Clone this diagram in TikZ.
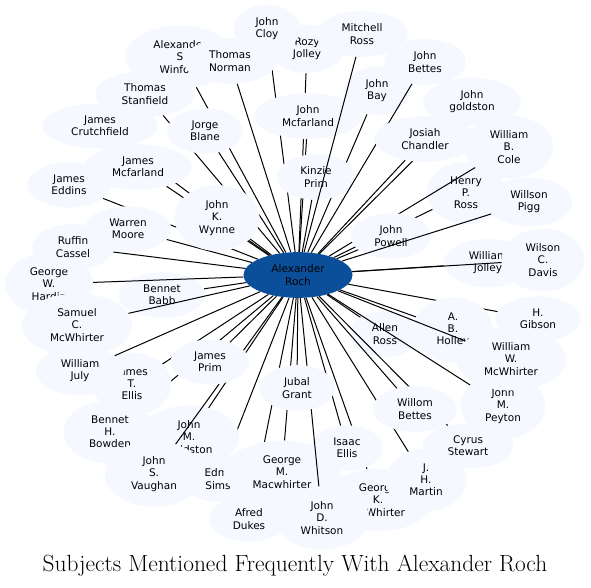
\documentclass[tikz,border=0pt]{standalone}
\usepackage{fontspec}
\usepackage{xcolor}
\usepackage{tikz}
\usetikzlibrary{shapes.geometric}
\newfontfamily\dvs{DejaVu Sans}
\definecolor{paleblue}{RGB}{245,249,255}
\definecolor{hubblue}{RGB}{11,79,154}

\begin{document}
\begin{tikzpicture}[x=1pt, y=-1pt,
  n/.style={ellipse, fill=paleblue, inner xsep=12pt, inner ysep=6pt, align=center,
    font=\dvs\fontsize{10.5}{12.2}\selectfont},
  hub/.style={n, fill=hubblue},
  lnk/.style={line width=1pt, black}]
  \useasboundingbox (0,0) rectangle (591,588);
  \node[hub] (roch) at (298,275) {Alexander\\Roch};
  % top
  \node[n] (rozy) at (307,49) {Rozy\\Jolley};
  \draw[lnk] (roch)--(rozy);
  \node[n] (cloy) at (267,29) {John\\Cloy};
  \draw[lnk] (roch)--(cloy);
  \node[n] (winford) at (180,57) {Alexander\\S\\Winford};
  \draw[lnk] (roch)--(winford);
  \node[n] (norman) at (230,61) {Thomas\\Norman};
  \draw[lnk] (roch)--(norman);
  \node[n] (jmcf) at (308,116) {John\\Mcfarland};
  \draw[lnk] (roch)--(jmcf);
  \node[n] (bay) at (377,91) {John\\Bay};
  \draw[lnk] (roch)--(bay);
  \node[n] (kinzie) at (316,177) {Kinzie\\Prim};
  \draw[lnk] (roch)--(kinzie);
  \node[n] (mitchell) at (362,34) {Mitchell\\Ross};
  \draw[lnk] (roch)--(mitchell);
  \node[n] (jbettes) at (425,62) {John\\Bettes};
  \draw[lnk] (roch)--(jbettes);
  \node[n] (jgold) at (472,102) {John\\goldston};
  \draw[lnk] (roch)--(jgold);
  \node[n] (chandler) at (425,139) {Josiah\\Chandler};
  \draw[lnk] (roch)--(chandler);
  % right
  \node[n] (henry) at (466,193) {Henry\\P.\\Ross};
  \draw[lnk] (roch)--(henry);
  \node[n] (cole) at (509,147) {William\\B.\\Cole};
  \draw[lnk] (roch)--(cole);
  \node[n] (powell) at (391,236) {John\\Powell};
  \draw[lnk] (roch)--(powell);
  \node[n] (pigg) at (529,202) {Willson\\Pigg};
  \draw[lnk] (roch)--(pigg);
  \node[n] (wjolley) at (488,263) {William\\Jolley};
  \draw[lnk] (roch)--(wjolley);
  \node[n] (davis) at (543,260) {Wilson\\C.\\Davis};
  \draw[lnk] (roch)--(davis);
  \node[n] (gibson) at (538,319) {H.\\Gibson};
  \draw[lnk] (roch)--(gibson);
  \node[n] (allen) at (385,334) {Allen\\Ross};
  \draw[lnk] (roch)--(allen);
  \node[n] (holley) at (453,330) {A.\\B.\\Holley};
  \draw[lnk] (roch)--(holley);
  \node[n] (peyton) at (503,406) {John\\M.\\Peyton};
  \draw[lnk] (roch)--(peyton);
  \node[n] (wwmcw) at (511,359) {William\\W.\\McWhirter};
  \draw[lnk] (roch)--(wwmcw);
  % bottom
  \node[n] (cyrus) at (468,446) {Cyrus\\Stewart};
  \draw[lnk] (roch)--(cyrus);
  \node[n] (gkmcw) at (378,500) {George\\K.\\McWhirter};
  \draw[lnk] (roch)--(gkmcw);
  \node[n] (martin) at (426,480) {J.\\H.\\Martin};
  \draw[lnk] (roch)--(martin);
  \node[n] (willom) at (415,409) {Willom\\Bettes};
  \draw[lnk] (roch)--(willom);
  \node[n] (isaac) at (347,448) {Isaac\\Ellis};
  \draw[lnk] (roch)--(isaac);
  \node[n] (sims) at (218,479) {Edm.\\Sims};
  \draw[lnk] (roch)--(sims);
  \node[n] (dukes) at (249,519) {Afred\\Dukes};
  \draw[lnk] (roch)--(dukes);
  \node[n] (gmmac) at (282,472) {George\\M.\\Macwhirter};
  \draw[lnk] (roch)--(gmmac);
  \node[n] (whitson) at (322,518) {John\\D.\\Whitson};
  \draw[lnk] (roch)--(whitson);
  \node[n] (jubal) at (297,388) {Jubal\\Grant};
  \draw[lnk] (roch)--(jubal);
  % left
  \node[n] (bowden) at (110,432) {Bennet\\H.\\Bowden};
  \draw[lnk] (roch)--(bowden);
  \node[n] (jtellis) at (132,384) {James\\T.\\Ellis};
  \draw[lnk] (roch)--(jtellis);
  \node[n] (jmgold) at (189,437) {John\\M.\\Goldston};
  \draw[lnk] (roch)--(jmgold);
  \node[n] (vaughan) at (154,474) {John\\S.\\Vaughan};
  \draw[lnk] (roch)--(vaughan);
  \node[n] (jprim) at (210,362) {James\\Prim};
  \draw[lnk] (roch)--(jprim);
  \node[n] (july) at (80,371) {William\\July};
  \draw[lnk] (roch)--(july);
  \node[n] (babb) at (162,295) {Bennet\\Babb};
  \draw[lnk] (roch)--(babb);
  \node[n] (hardin) at (49,284) {George\\W.\\Hardin};
  \draw[lnk] (roch)--(hardin);
  \node[n] (samuel) at (77,325) {Samuel\\C.\\McWhirter};
  \draw[lnk] (roch)--(samuel);
  \node[n] (ruffin) at (73,247) {Ruffin\\Cassel};
  \draw[lnk] (roch)--(ruffin);
  \node[n] (crutch) at (100,126) {James\\Crutchfield};
  \draw[lnk] (roch)--(crutch);
  \node[n] (jamesmcf) at (138,167) {James\\Mcfarland};
  \draw[lnk] (roch)--(jamesmcf);
  \node[n] (stanfield) at (145,94) {Thomas\\Stanfield};
  \draw[lnk] (roch)--(stanfield);
  \node[n] (eddins) at (69,185) {James\\Eddins};
  \draw[lnk] (roch)--(eddins);
  \node[n] (moore) at (128,229) {Warren\\Moore};
  \draw[lnk] (roch)--(moore);
  \node[n] (blane) at (205,131) {Jorge\\Blane};
  \draw[lnk] (roch)--(blane);
  \node[n] (wynne) at (217,218) {John\\K.\\Wynne};
  \draw[lnk] (roch)--(wynne);
  % title
  \node[font=\fontsize{23.4}{28}\selectfont] (title) at (295,566) {Subjects Mentioned Frequently With Alexander Roch};
\end{tikzpicture}
\end{document}
